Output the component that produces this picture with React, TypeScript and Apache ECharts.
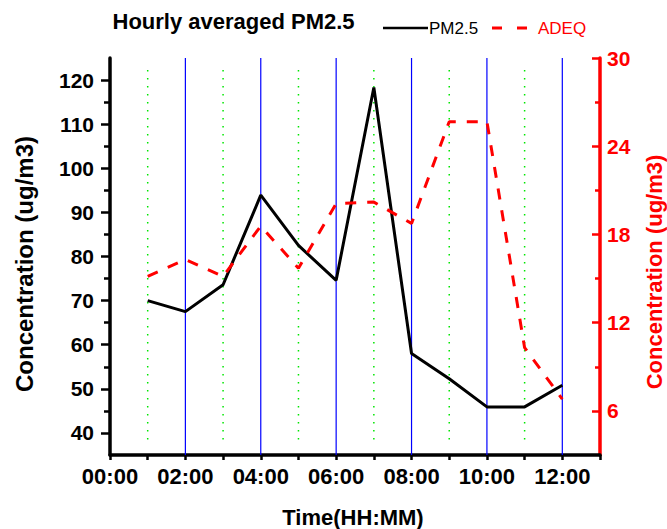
import React, { useEffect, useRef } from 'react';
import * as echarts from 'echarts';

const hours = [1, 2, 3, 4, 5, 6, 7, 8, 9, 10, 11, 12];
const pm25 = [70, 67.5, 73.6, 93.9, 82.5, 74.6, 118.3, 58, 52.3, 45.9, 45.9, 50.8];
const adeq = [15.15, 16.3, 15.15, 18.57, 15.7, 20.1, 20.2, 18.75, 25.67, 25.67, 10.3, 6.8];

const leftMajor = [40, 50, 60, 70, 80, 90, 100, 110, 120];
const leftMinor = [45, 55, 65, 75, 85, 95, 105, 115];
const rightMajor = [6, 12, 18, 24, 30];
const rightMinor = [9, 15, 21, 27];

const blueHours = [2, 4, 6, 8, 10, 12];
const greenHours = [1, 3, 5, 7, 9, 11];
const greenTop = 122.3;
const greenBottom = 38.3;

const FONT = '"Liberation Sans", Arial, sans-serif';

function hh(v: number): string {
  return (v < 10 ? '0' : '') + v + ':00';
}

export default function App() {
  const ref = useRef<HTMLDivElement>(null);

  useEffect(() => {
    if (!ref.current) return;
    const chart = echarts.init(ref.current, null, { renderer: 'svg' });

    const gridSeries: any[] = [];
    blueHours.forEach((h) => {
      gridSeries.push({
        type: 'line',
        xAxisIndex: 0,
        yAxisIndex: 0,
        data: [[h, 35], [h, 125]],
        symbol: 'none',
        silent: true,
        z: 1,
        lineStyle: { color: '#0000ff', width: 1.2, type: 'solid' },
      });
    });
    greenHours.forEach((h) => {
      gridSeries.push({
        type: 'line',
        xAxisIndex: 0,
        yAxisIndex: 0,
        data: [[h, greenTop], [h, greenBottom]],
        symbol: 'none',
        silent: true,
        z: 1,
        lineStyle: { color: '#00e600', width: 1.5, type: [1.5, 6.5] },
      });
    });

    const option: any = {
      animation: false,
      backgroundColor: '#ffffff',
      grid: { left: 110, right: 67, top: 58, bottom: 74, containLabel: false, outerBoundsMode: 'none' },
      xAxis: {
        type: 'value',
        min: 0,
        max: 13,
        interval: 1,
        axisLine: { show: true, lineStyle: { color: '#000', width: 3.5 } },
        axisTick: { show: true, length: 5, lineStyle: { color: '#000', width: 2.5 } },
        axisLabel: {
          formatter: (v: number) => (v % 2 === 0 && v <= 12 ? hh(v) : ''),
          color: '#000',
          fontWeight: 'bold',
          fontSize: 22,
          fontFamily: FONT,
          margin: 10,
        },
        splitLine: { show: false },
      },
      yAxis: [
        {
          type: 'value',
          position: 'left',
          min: 35,
          max: 125,
          axisLine: { show: true, lineStyle: { color: '#000', width: 3.5 } },
          axisTick: { show: true, length: 9, customValues: leftMajor, lineStyle: { color: '#000', width: 2.5 } },
          axisLabel: { customValues: leftMajor, color: '#000', fontWeight: 'bold', fontSize: 21, fontFamily: FONT, margin: 16 },
          splitLine: { show: false },
        },
        {
          type: 'value',
          position: 'right',
          min: 3,
          max: 30,
          axisLine: { show: true, lineStyle: { color: '#ff0000', width: 3.5 } },
          axisTick: { show: true, inside: true, length: 8, customValues: rightMajor, lineStyle: { color: '#ff0000', width: 2.5 } },
          axisLabel: { customValues: rightMajor, color: '#ff0000', fontWeight: 'bold', fontSize: 21, fontFamily: FONT, margin: 7 },
          splitLine: { show: false },
        },
        {
          type: 'value',
          position: 'left',
          min: 35,
          max: 125,
          axisLine: { show: false },
          axisTick: { show: true, length: 6, customValues: leftMinor, lineStyle: { color: '#000', width: 2.5 } },
          axisLabel: { show: false },
          splitLine: { show: false },
        },
        {
          type: 'value',
          position: 'right',
          min: 3,
          max: 30,
          axisLine: { show: false },
          axisTick: { show: true, inside: true, length: 5, customValues: rightMinor, lineStyle: { color: '#ff0000', width: 2.5 } },
          axisLabel: { show: false },
          splitLine: { show: false },
        },
      ],
      series: [
        ...gridSeries,
        {
          name: 'PM2.5',
          type: 'line',
          xAxisIndex: 0,
          yAxisIndex: 0,
          data: hours.map((h, i) => [h, pm25[i]]),
          symbol: 'none',
          z: 3,
          lineStyle: { color: '#000000', width: 3 },
        },
        {
          name: 'ADEQ',
          type: 'line',
          xAxisIndex: 0,
          yAxisIndex: 1,
          data: hours.map((h, i) => [h, adeq[i]]),
          symbol: 'none',
          z: 4,
          lineStyle: { color: '#ff0000', width: 3, type: [11, 11] },
        },
      ],
      graphic: [
        {
          type: 'text',
          x: 112.5,
          y: 21,
          style: { text: 'Hourly averaged PM2.5', fontSize: 22, fontWeight: 'bold', fontFamily: FONT, fill: '#000', align: 'left', verticalAlign: 'middle' },
        },
        {
          type: 'line',
          shape: { x1: 383, y1: 28, x2: 428, y2: 28 },
          style: { stroke: '#000', lineWidth: 2.5 },
        },
        {
          type: 'text',
          x: 429,
          y: 28,
          style: { text: 'PM2.5', fontSize: 17, fontFamily: FONT, fill: '#000', align: 'left', verticalAlign: 'middle' },
        },
        {
          type: 'line',
          shape: { x1: 492, y1: 28, x2: 527, y2: 28 },
          style: { stroke: '#ff0000', lineWidth: 3, lineDash: [10, 15] },
        },
        {
          type: 'text',
          x: 538,
          y: 28,
          style: { text: 'ADEQ', fontSize: 17, fontFamily: FONT, fill: '#ff0000', align: 'left', verticalAlign: 'middle' },
        },
        {
          type: 'text',
          x: 24,
          y: 264,
          rotation: Math.PI / 2,
          style: { text: 'Concentration (ug/m3)', fontSize: 24, fontWeight: 'bold', fontFamily: FONT, fill: '#000', align: 'center', verticalAlign: 'middle' },
        },
        {
          type: 'text',
          x: 654,
          y: 272,
          rotation: Math.PI / 2,
          style: { text: 'Concentration (ug/m3)', fontSize: 22, fontWeight: 'bold', fontFamily: FONT, fill: '#ff0000', align: 'center', verticalAlign: 'middle' },
        },
        {
          type: 'text',
          x: 353,
          y: 517,
          style: { text: 'Time(HH:MM)', fontSize: 22, fontWeight: 'bold', fontFamily: FONT, fill: '#000', align: 'center', verticalAlign: 'middle' },
        },
      ],
    };

    chart.setOption(option);
    return () => {
      chart.dispose();
    };
  }, []);

  return (
    <div
      ref={ref}
      style={{ position: 'fixed', left: 0, top: 0, width: 667, height: 529, background: '#fff' }}
    />
  );
}
